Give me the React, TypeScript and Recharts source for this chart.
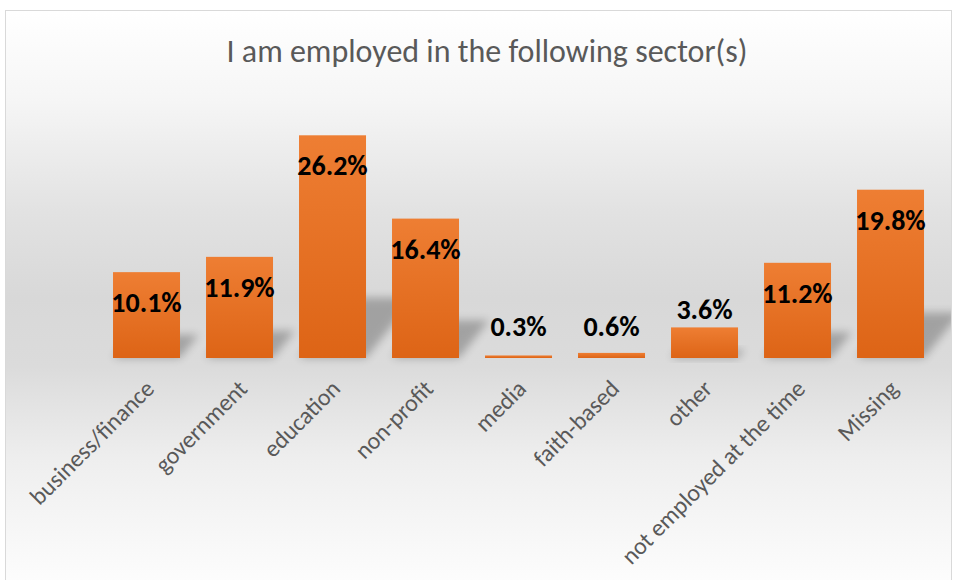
import React from "react";
import { BarChart, Bar, XAxis, YAxis, LabelList } from "recharts";

const categories = [
  "business/finance",
  "government",
  "education",
  "non-profit",
  "media",
  "faith-based",
  "other",
  "not employed at the time",
  "Missing",
];
const values = [10.1, 11.9, 26.2, 16.4, 0.3, 0.6, 3.6, 11.2, 19.8];
const valueLabels = ["10.1%", "11.9%", "26.2%", "16.4%", "0.3%", "0.6%", "3.6%", "11.2%", "19.8%"];
const title = "I am employed in the following sector(s)";

const data = categories.map((c, i) => ({ name: c, value: values[i], label: valueLabels[i] }));

const FONT = "Carlito, Calibri, Lato, 'Noto Sans', sans-serif";

const BarShape = (props: any) => {
  const { x, y, width, height } = props;
  const base = y + height;
  const sh = height * 0.27;
  const s = sh * 0.8;
  const pts = `${x},${base} ${x + width},${base} ${x + width + s},${base - sh} ${x + s},${base - sh}`;
  return (
    <g>
      {height > 10 && (
        <polygon points={pts} fill="#000" opacity={0.25} filter="url(#shadowBlur)" />
      )}
      <rect x={x} y={y} width={width} height={height} fill="url(#barGrad)" />
    </g>
  );
};

const ValueLabel = (props: any) => {
  const { x, y, width, height, value } = props;
  const base = y + height;
  const baseline = height > 40 ? y + 40 : Math.min(y - 8, base - 22);
  return (
    <text
      x={x + width / 2}
      y={baseline}
      textAnchor="middle"
      fontFamily={FONT}
      fontWeight={700}
      fontSize={28}
      fill="#000"
    >
      {value}
    </text>
  );
};

const Tick = (props: any) => {
  const { x, y, payload } = props;
  const ay = y + 23;
  return (
    <text
      x={x}
      y={ay}
      dy={13}
      transform={`rotate(-45, ${x}, ${ay})`}
      textAnchor="end"
      fontFamily={FONT}
      fontSize={24}
      fill="#595959"
    >
      {payload.value}
    </text>
  );
};

export default function App() {
  return (
    <div
      style={{
        position: "fixed",
        left: 5,
        top: 10,
        width: 947,
        height: 575,
        border: "1px solid #d9d9d9",
        boxSizing: "border-box",
        background:
          "linear-gradient(to bottom, #ffffff 0%, #f6f6f6 15%, #e2e2e2 35%, #d8d8d8 50%, #dbdbdb 62%, #eeeeee 78%, #fdfdfd 100%)",
        overflow: "hidden",
      }}
    >
      <svg
        width={947}
        height={80}
        style={{ position: "absolute", left: 0, top: 0 }}
      >
        <text
          x={481}
          y={51}
          textAnchor="middle"
          fontFamily={FONT}
          fontSize={32}
          fill="#595959"
        >
          {title}
        </text>
      </svg>
      <div style={{ position: "absolute", left: -1, top: -1 }}>
        <BarChart
          width={947}
          height={575}
          data={data}
          margin={{ top: 93, right: 15, left: 95, bottom: 0 }}
          barCategoryGap="14%"
        >
          <defs>
            <linearGradient id="barGrad" x1="0" y1="0" x2="0" y2="1">
              <stop offset="0%" stopColor="#ee7e33" />
              <stop offset="100%" stopColor="#dd6416" />
            </linearGradient>
            <filter id="shadowBlur" x="-50%" y="-50%" width="200%" height="200%">
              <feGaussianBlur stdDeviation="4" />
            </filter>
          </defs>
          <YAxis hide domain={[0, 30]} />
          <XAxis
            dataKey="name"
            interval={0}
            axisLine={false}
            tickLine={false}
            tickSize={0}
            tickMargin={0}
            height={227}
            tick={<Tick />}
          />
          <Bar dataKey="value" shape={<BarShape />} isAnimationActive={false}>
            <LabelList dataKey="label" content={<ValueLabel />} />
          </Bar>
        </BarChart>
      </div>
    </div>
  );
}
